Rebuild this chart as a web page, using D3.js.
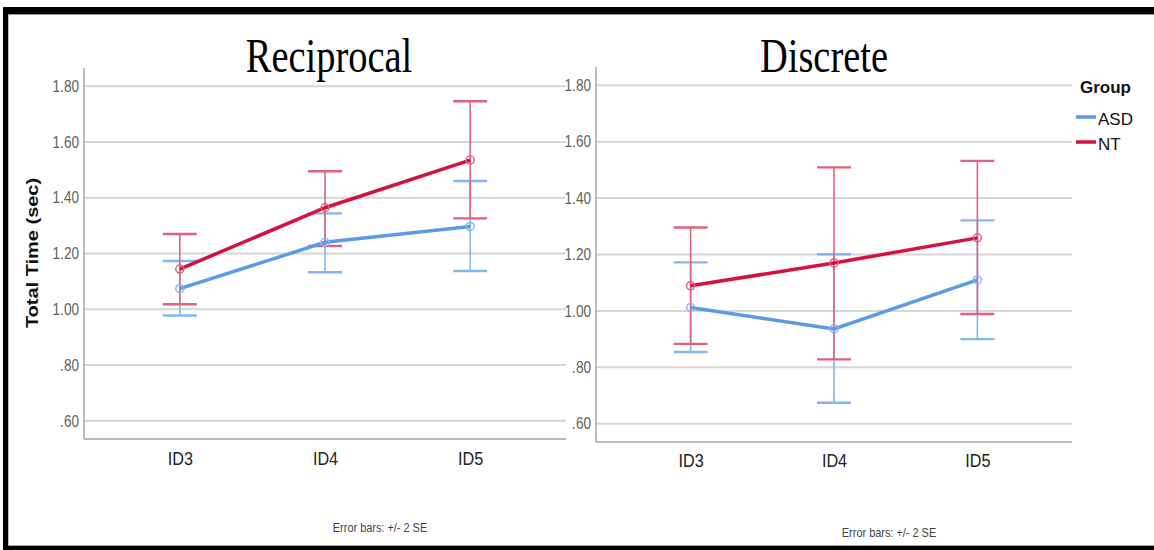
<!DOCTYPE html>
<html><head><meta charset="utf-8">
<script src="https://cdn.jsdelivr.net/npm/d3@7/dist/d3.min.js"></script>
<style>html,body{margin:0;padding:0;background:#fff;}svg{display:block;}</style>
</head><body>
<svg id="c" width="1154" height="550"></svg>
<script>
const categories = ["ID3", "ID4", "ID5"];
const yTicks = [0.6, 0.8, 1.0, 1.2, 1.4, 1.6, 1.8];
const yTickLabels = [".60", ".80", "1.00", "1.20", "1.40", "1.60", "1.80"];
const groups = ["ASD", "NT"];

// Reciprocal panel
const recipASD    = [1.074, 1.240, 1.297];
const recipASDLo  = [0.978, 1.133, 1.137];
const recipASDHi  = [1.173, 1.344, 1.460];
const recipNT     = [1.144, 1.364, 1.535];
const recipNTLo   = [1.018, 1.227, 1.326];
const recipNTHi   = [1.270, 1.495, 1.746];
// Discrete panel
const discASD     = [1.012, 0.936, 1.110];
const discASDLo   = [0.854, 0.674, 0.900];
const discASDHi   = [1.172, 1.201, 1.321];
const discNT      = [1.089, 1.170, 1.259];
const discNTLo    = [0.883, 0.828, 0.989];
const discNTHi    = [1.296, 1.509, 1.532];

const colors = {ASD: "#5b9be6", NT: "#d5123e"};
const barColors = {ASD: "#86b6f0", NT: "#e3607f"};

const svg = d3.select("#c");
const font = "'Liberation Sans', Arial, sans-serif";

// frame
svg.append("rect").attr("x",3).attr("y",7).attr("width",1151).attr("height",7).attr("fill","#000");
svg.append("rect").attr("x",3).attr("y",7).attr("width",5).attr("height",543).attr("fill","#000");
svg.append("rect").attr("x",3).attr("y",546).attr("width",1151).attr("height",4).attr("fill","#000");
svg.append("line").attr("x1",8).attr("x2",1154).attr("y1",14.5).attr("y2",14.5).attr("stroke","#999").attr("stroke-width",1);
svg.append("line").attr("x1",8.5).attr("x2",8.5).attr("y1",14).attr("y2",546).attr("stroke","#bbb").attr("stroke-width",1);
svg.append("line").attr("x1",8).attr("x2",1154).attr("y1",545.5).attr("y2",545.5).attr("stroke","#aaa").attr("stroke-width",1);

const domainY = [0.535, 1.865];

function panel(opts) {
  const g = svg.append("g");
  const x = d3.scalePoint().domain(categories).range([opts.x0, opts.x1]).padding(0.66);
  const y = d3.scaleLinear().domain(domainY).range([opts.yb, opts.yt]);

  // gridlines
  g.selectAll("line.grid").data(yTicks).enter().append("line")
    .attr("x1", opts.x0).attr("x2", opts.x1)
    .attr("y1", d => y(d)).attr("y2", d => y(d))
    .attr("stroke", "#d6d6d6").attr("stroke-width", 2);

  // y axis labels via d3 axis
  const ya = g.append("g").attr("transform", `translate(${opts.x0},0)`)
    .call(d3.axisLeft(y).tickValues(yTicks).tickFormat((d,i) => yTickLabels[i]).tickSize(0).tickPadding(5));
  ya.select(".domain").remove();
  ya.attr("font-size", 16);
  ya.selectAll("text").attr("font-family", font).attr("font-size", 16).attr("fill", "#5f5f5f")
    .each(function(){
      const t = d3.select(this);
      const xx = +t.attr("x") || -5;
      t.attr("x", null);
      t.attr("transform", `translate(${xx},0) scale(0.85,1)`);
    });

  // axis lines
  g.append("line").attr("x1", opts.x0).attr("x2", opts.x0).attr("y1", opts.yt).attr("y2", opts.yb)
    .attr("stroke", "#a5a5a5").attr("stroke-width", 1.5);
  g.append("line").attr("x1", opts.x0).attr("x2", opts.x1).attr("y1", opts.yb).attr("y2", opts.yb)
    .attr("stroke", "#a5a5a5").attr("stroke-width", 1.5);

  // x labels via axis
  const xa = g.append("g").attr("transform", `translate(0,${opts.yb})`)
    .call(d3.axisBottom(x).tickSize(0).tickPadding(0));
  xa.select(".domain").remove();
  xa.attr("font-size", 18);
  xa.selectAll("text").attr("font-family", font).attr("font-size", 18).attr("fill", "#222")
    .attr("dy", null).attr("y", null)
    .attr("transform", `translate(0,${opts.labelDy}) scale(0.9,1)`);

  // series
  opts.series.forEach(s => {
    const pts = categories.map((c,i) => ({c, v: s.v[i], lo: s.lo[i], hi: s.hi[i]}));
    const eb = g.append("g");
    eb.selectAll("line.v").data(pts).enter().append("line")
      .attr("x1", d => x(d.c)).attr("x2", d => x(d.c))
      .attr("y1", d => y(d.lo)).attr("y2", d => y(d.hi))
      .attr("stroke", barColors[s.name]).attr("stroke-width", 1.6);
    ["lo","hi"].forEach(k => {
      eb.selectAll("line.cap"+k).data(pts).enter().append("line")
        .attr("x1", d => x(d.c) - 17).attr("x2", d => x(d.c) + 17)
        .attr("y1", d => y(d[k])).attr("y2", d => y(d[k]))
        .attr("stroke", barColors[s.name]).attr("stroke-width", 2.4);
    });
    s.pts = pts;
  });
  opts.series.forEach(s => {
    g.append("path").datum(s.pts)
      .attr("d", d3.line().x(d => x(d.c)).y(d => y(d.v)))
      .attr("fill", "none").attr("stroke", colors[s.name]).attr("stroke-width", 3.5);
    g.selectAll(null).data(s.pts).enter().append("circle")
      .attr("cx", d => x(d.c)).attr("cy", d => y(d.v)).attr("r", 4)
      .attr("fill", "none").attr("stroke", barColors[s.name]).attr("stroke-width", 1.5);
  });

  // title
  svg.append("text").attr("font-family", "'Liberation Serif', 'Times New Roman', serif")
    .attr("font-size", 48).attr("fill", "#000").attr("text-anchor", "middle")
    .attr("transform", `translate(${opts.titleX},72) scale(0.8,1)`).text(opts.title);

  // footnote
  svg.append("text").attr("font-family", font).attr("font-size", 12).attr("fill", "#444")
    .attr("text-anchor", "middle")
    .attr("transform", `translate(${opts.noteX},${opts.noteY}) scale(0.91,1)`).text("Error bars: +/- 2 SE");
}

panel({x0: 84, x1: 566, yt: 68, yb: 439, labelDy: 26, title: "Reciprocal", titleX: 329, noteX: 380, noteY: 532,
  series: [
    {name: "ASD", v: recipASD, lo: recipASDLo, hi: recipASDHi},
    {name: "NT", v: recipNT, lo: recipNTLo, hi: recipNTHi}
  ]});
panel({x0: 596, x1: 1072, yt: 67, yb: 442, labelDy: 25, title: "Discrete", titleX: 824, noteX: 889, noteY: 537,
  series: [
    {name: "ASD", v: discASD, lo: discASDLo, hi: discASDHi},
    {name: "NT", v: discNT, lo: discNTLo, hi: discNTHi}
  ]});

// y-axis title
svg.append("text").attr("font-family", font).attr("font-weight", "bold").attr("font-size", 20)
  .attr("fill", "#111").attr("text-anchor", "middle")
  .attr("transform", "translate(38,253) rotate(-90) scale(1,0.82)").text("Total Time (sec)");

// legend
const lg = svg.append("g");
lg.append("text").attr("x", 1080).attr("y", 93).attr("font-family", font).attr("font-weight", "bold")
  .attr("font-size", 17).attr("fill", "#111").text("Group");
groups.forEach((gname, i) => {
  const yy = 117 + i * 25;
  lg.append("line").attr("x1", 1076).attr("x2", 1096).attr("y1", yy).attr("y2", yy)
    .attr("stroke", colors[gname]).attr("stroke-width", 3.5);
  lg.append("text").attr("x", 1098).attr("y", yy + 8).attr("font-family", font)
    .attr("font-size", 17).attr("fill", "#111").text(gname);
});
</script>
</body></html>
